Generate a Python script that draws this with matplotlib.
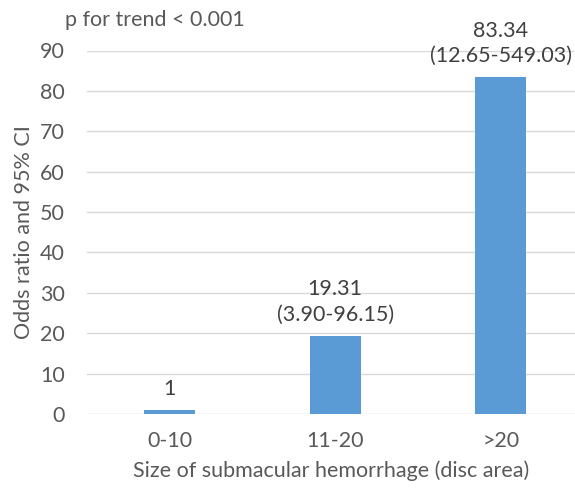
import matplotlib
matplotlib.use("Agg")
import matplotlib.pyplot as plt

# data
categories = ['0-10', '11-20', '>20']
odds = [1, 19.31, 83.34]
labels = ['1', '19.31\n(3.90-96.15)', '83.34\n(12.65-549.03)']
yticks = [0, 10, 20, 30, 40, 50, 60, 70, 80, 90]

plt.rcParams['font.family'] = ['Lato', 'DejaVu Sans']
fs = 15.5

fig = plt.figure(figsize=(5.75, 4.92), dpi=100)
ax = fig.add_axes([87 / 575, 78 / 492, 488 / 575, 363.5 / 492])

x = range(len(categories))
ax.bar(x, odds, width=0.31, color='#5B9BD5', zorder=3)

for xi, v, lab in zip(x, odds, labels):
    ax.annotate(lab, (xi, v), xytext=(0, 8), textcoords='offset points',
                ha='center', va='bottom', fontsize=fs, color='#404040',
                linespacing=1.35)

ax.set_xlim(-0.5, -0.5 + 488 / 165.5)
ax.set_ylim(0, 90)
ax.set_yticks(yticks)
ax.set_xticks(list(x))
ax.set_xticklabels(categories)
ax.grid(axis='y', color='#D9D9D9', linewidth=1, zorder=0)
for s in ax.spines.values():
    s.set_visible(False)
ax.tick_params(length=0, labelsize=fs, labelcolor='#595959')
ax.tick_params(axis='y', pad=16)
ax.tick_params(axis='x', pad=12)

ax.set_xlabel('Size of submacular hemorrhage (disc area)', fontsize=fs,
              color='#595959', labelpad=7)
ax.set_ylabel('Odds ratio and 95% CI', fontsize=fs, color='#595959',
              labelpad=4)
fig.text(65 / 575, 1 - 20 / 492, 'p for trend < 0.001', fontsize=fs,
         color='#595959', va='center')

fig.savefig('out.png', dpi=100)
